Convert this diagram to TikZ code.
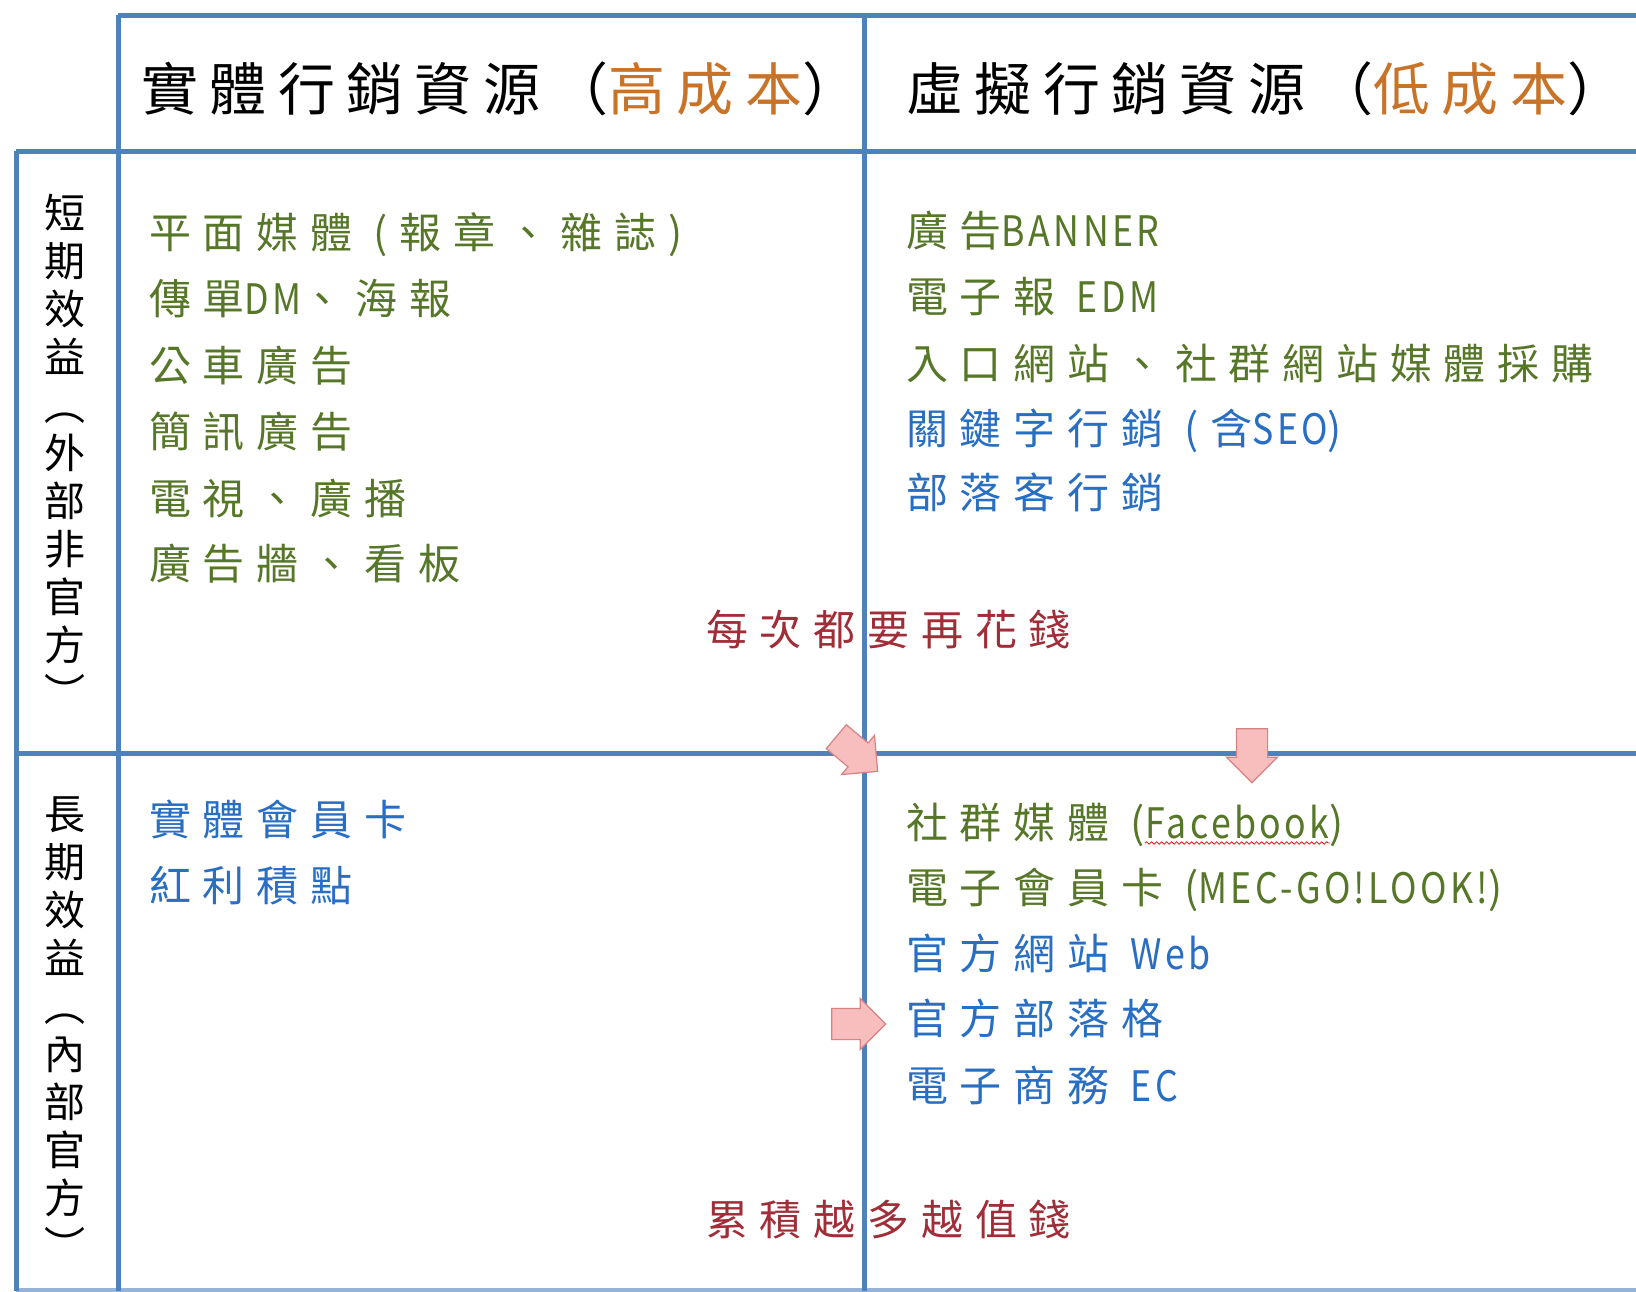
\documentclass[tikz,border=0pt]{standalone}
\usepackage{fontspec}
\newfontfamily\handcjk[LetterSpace=28]{Noto Sans CJK TC}
\newfontfamily\handhead[LetterSpace=20]{Noto Sans CJK TC}
\newfontfamily\handlat[FakeStretch=0.85,LetterSpace=8]{Noto Sans CJK TC}
\newfontfamily\handplain{Noto Sans CJK TC}
\newcommand\latn[1]{{\handlat #1}}
\usepackage{tikz}
\usetikzlibrary{shapes.arrows,decorations.pathmorphing}
\definecolor{mygrid}{RGB}{79,129,189}
\definecolor{mygreen}{RGB}{86,118,40}
\definecolor{myblue}{RGB}{40,110,195}
\definecolor{myorange}{RGB}{200,115,40}
\definecolor{mydarkred}{RGB}{160,45,55}
\definecolor{mypink}{RGB}{248,190,190}
\definecolor{mypinkline}{RGB}{215,130,130}
\tikzstyle{gridline}=[draw=mygrid,line width=5pt]
\tikzstyle{head}=[anchor=base west,inner sep=0pt,font=\fontsize{57}{60}\selectfont\handhead]
\tikzstyle{item}=[anchor=base west,inner sep=0pt,font=\fontsize{42}{50}\selectfont\handcjk]
\tikzstyle{side}=[align=center,inner sep=0pt,font=\fontsize{41}{48}\selectfont\handplain]
\tikzstyle{blockarrow}=[draw=mypinkline,fill=mypink,line width=1.2pt,single arrow,single arrow head extend=10pt,inner xsep=0pt,inner ysep=15pt,minimum height=54pt]
\tikzstyle{wave}=[draw=red,line width=0.8pt,decorate,decoration={snake,amplitude=1.2pt,segment length=5pt}]

\begin{document}
\begin{tikzpicture}[x=1pt,y=-1pt]
\fill[white] (0,0) rectangle (1636,1291);
\useasboundingbox (0,0) rectangle (1636,1291);
\draw[gridline] (118,15) -- (1636,15);
\draw[gridline] (16,151) -- (1636,151);
\draw[gridline] (16,753) -- (1636,753);
\draw[gridline, draw=mygrid!60] (16,1290) -- (1636,1290);
\draw[gridline] (16,151) -- (16,1291);
\draw[gridline] (118,15) -- (118,1291);
\draw[gridline] (864,15) -- (864,1291);

\draw (141, 110) node [head] (real) {實體行銷資源（{\color{myorange}高成本}）};
\draw (906, 110) node [head] (virtual) {虛擬行銷資源（{\color{myorange}低成本}）};
\draw (65, 451) node [side] (short) {短\\期\\效\\益\\︵\\外\\部\\非\\官\\方\\︶};
\draw (65, 1029) node [side] (long) {長\\期\\效\\益\\︵\\內\\部\\官\\方\\︶};

\draw (149, 248) node [item, text=mygreen] (tl1) {平面媒體 (報章、雜誌)};
\draw (149, 314) node [item, text=mygreen] (tl2) {傳單\latn{DM}、海報};
\draw (149, 381) node [item, text=mygreen] (tl3) {公車廣告};
\draw (149, 447) node [item, text=mygreen] (tl4) {簡訊廣告};
\draw (149, 514) node [item, text=mygreen] (tl5) {電視、廣播};
\draw (149, 579) node [item, text=mygreen] (tl6) {廣告牆、看板};

\draw (906, 246) node [item, text=mygreen] (tr1) {廣告\latn{BANNER}};
\draw (906, 312) node [item, text=mygreen] (tr2) {電子報 \latn{EDM}};
\draw (906, 379) node [item, text=mygreen] (tr3) {入口網站、社群網站媒體採購};
\draw (906, 444) node [item, text=myblue] (tr4) {關鍵字行銷 (含\latn{SEO})};
\draw (906, 508) node [item, text=myblue] (tr5) {部落客行銷};

\draw (706, 645) node [item, text=mydarkred] (spend) {每次都要再花錢};

\draw (149, 835) node [item, text=myblue] (bl1) {實體會員卡};
\draw (149, 901) node [item, text=myblue] (bl2) {紅利積點};

\draw (906, 838) node [item, text=mygreen] (br1) {社群媒體 (};
\draw (br1.base east) node [item, text=mygreen] (fb) {\latn{Facebook}};
\draw (fb.base east) node [item, text=mygreen] (br1end) {)};
\draw [wave] ([yshift=-5pt]fb.base west) -- ([yshift=-5pt]fb.base east);
\draw (906, 903) node [item, text=mygreen] (br2) {電子會員卡 (\latn{MEC-GO!LOOK!})};
\draw (906, 969) node [item, text=myblue] (br3) {官方網站 \latn{Web}};
\draw (906, 1034) node [item, text=myblue] (br4) {官方部落格};
\draw (906, 1101) node [item, text=myblue] (br5) {電子商務 \latn{EC}};

\draw (706, 1235) node [item, text=mydarkred] (worth) {累積越多越值錢};

\node [blockarrow, rotate=-40] (arrowdiag) at (851, 749) {};
\node [blockarrow, rotate=-90] (arrowdown) at (1252, 748) {};
\node [blockarrow] (arrowright) at (851, 1024) {};
\end{tikzpicture}
\end{document}
